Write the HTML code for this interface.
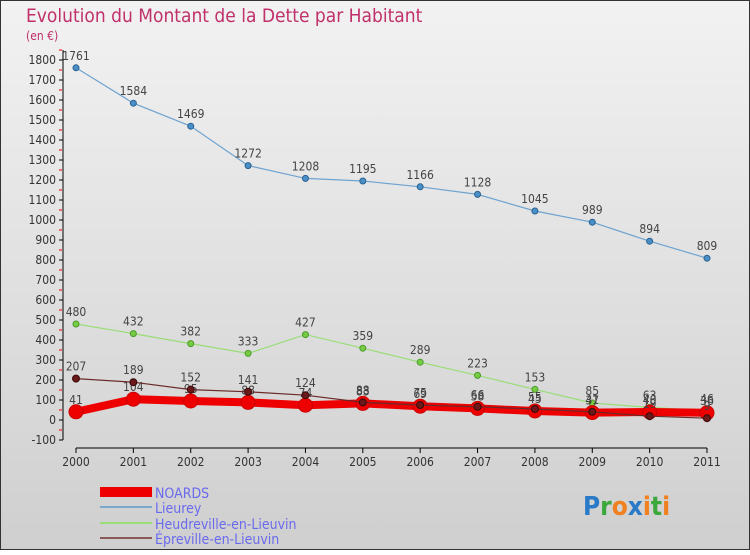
<!DOCTYPE html>
<html><head><meta charset="utf-8"><style>
body{margin:0;width:750px;height:550px;overflow:hidden;font-family:"Liberation Sans",sans-serif}
svg text{font-family:"DejaVu Sans Condensed","Liberation Sans",sans-serif}
</style></head><body>
<svg id="c" width="750" height="550" xmlns="http://www.w3.org/2000/svg">
<defs><linearGradient id="bg" x1="0" y1="0" x2="0" y2="1"><stop offset="0" stop-color="#f2f2f2"/><stop offset="1" stop-color="#cfcfcf"/></linearGradient></defs>
<rect x="0.5" y="0.5" width="749" height="549" fill="url(#bg)" stroke="#333"/>
<text x="26" y="22" font-size="19" fill="#c0306a">Evolution du Montant de la Dette par Habitant</text>
<text x="26" y="40" font-size="12" fill="#c0306a">(en €)</text>
<g id="axes"></g><g id="series"></g>
<g>
<rect x="100" y="487" width="52" height="10" fill="#ee0000"/>
<text x="155" y="498" font-size="14" fill="#6a6aee">NOARDS</text>
<line x1="100" y1="507" x2="152" y2="507" stroke="#7aa8cc" stroke-width="2"/>
<text x="155" y="513" font-size="14" fill="#6a6aee">Lieurey</text>
<line x1="100" y1="523" x2="152" y2="523" stroke="#99dd77" stroke-width="2"/>
<text x="155" y="529" font-size="14" fill="#6a6aee">Heudreville-en-Lieuvin</text>
<line x1="100" y1="538" x2="152" y2="538" stroke="#8a5a5a" stroke-width="2"/>
<text x="155" y="544" font-size="14" fill="#6a6aee">Épreville-en-Lieuvin</text>
</g>
<g font-size="26" font-weight="bold">
<text x="583" y="515"><tspan fill="#2a7ac8">P</tspan><tspan fill="#3aa83a">r</tspan><tspan fill="#f08020">o</tspan><tspan fill="#2a7ac8">x</tspan><tspan fill="#f08020">i</tspan><tspan fill="#3aa83a">t</tspan><tspan fill="#f08020">i</tspan></text>
</g>
</svg>
<script>
const years=[2000,2001,2002,2003,2004,2005,2006,2007,2008,2009,2010,2011];
const noards=[41,104,95,88,74,83,69,58,45,37,40,36];
const lieurey=[1761,1584,1469,1272,1208,1195,1166,1128,1045,989,894,809];
const heudreville=[480,432,382,333,427,359,289,223,153,85,63,46];
const epreville=[207,189,152,141,124,88,75,66,55,41,19,9];
const yTicks=[-100,0,100,200,300,400,500,600,700,800,900,1000,1100,1200,1300,1400,1500,1600,1700,1800];
const NS="http://www.w3.org/2000/svg";
const X=i=>76+i*(707-76)/11;
const Y=v=>420-v*0.2;
function mk(t,a,p){const e=document.createElementNS(NS,t);for(const k in a)e.setAttribute(k,a[k]);p.appendChild(e);return e;}
const ax=document.getElementById('axes');
let l=mk('line',{x1:63,y1:Y(-100),x2:63,y2:50,stroke:'#000'},ax);


yTicks.forEach(v=>{
 mk('line',{x1:59,y1:Y(v),x2:63,y2:Y(v),stroke:'#000'},ax);
 mk('line',{x1:59,y1:Y(v+50),x2:62,y2:Y(v+50),stroke:'#e00'},ax);
 const t=mk('text',{x:56,y:Y(v)+4,'font-size':12,'text-anchor':'end',fill:'#333'},ax);t.textContent=v;
 
 
});
l=mk('line',{x1:76,y1:448,x2:707,y2:448,stroke:'#000'},ax);


years.forEach((y,i)=>{
 mk('line',{x1:X(i),y1:448,x2:X(i),y2:453,stroke:'#000'},ax);
 const t=mk('text',{x:X(i),y:466,'font-size':12,'text-anchor':'middle',fill:'#333'},ax);t.textContent=y;
 
 
});
const sg=document.getElementById('series');
function series(name,vals,color,w,r,dot,stroke){
 const g=mk('g',{},sg);
 
 
 mk('polyline',{points:vals.map((v,i)=>X(i)+','+Y(v)).join(' '),fill:'none',stroke:color,'stroke-width':w},g);
 vals.forEach((v,i)=>{
  const c=mk('circle',{cx:X(i),cy:Y(v),r:r,fill:dot,stroke:stroke,'stroke-width':1},g);
  
  
  const t=mk('text',{x:X(i),y:Y(v)-8,'font-size':12,'text-anchor':'middle',fill:'#444'},g);t.textContent=v;
  
  
 });
}
series('lieurey',lieurey,'#6fa3d0',1.2,3,'#4a90c8','#2a6090');
series('heudreville',heudreville,'#99dd77',1.2,3,'#77cc44','#4a9a2a');
series('noards',noards,'#ee0000',8,7,'#ee0000','#cc0000');
series('epreville',epreville,'#6a2a2a',1.2,3.5,'#6a1a1a','#3a0a0a');
</script>
</body></html>
